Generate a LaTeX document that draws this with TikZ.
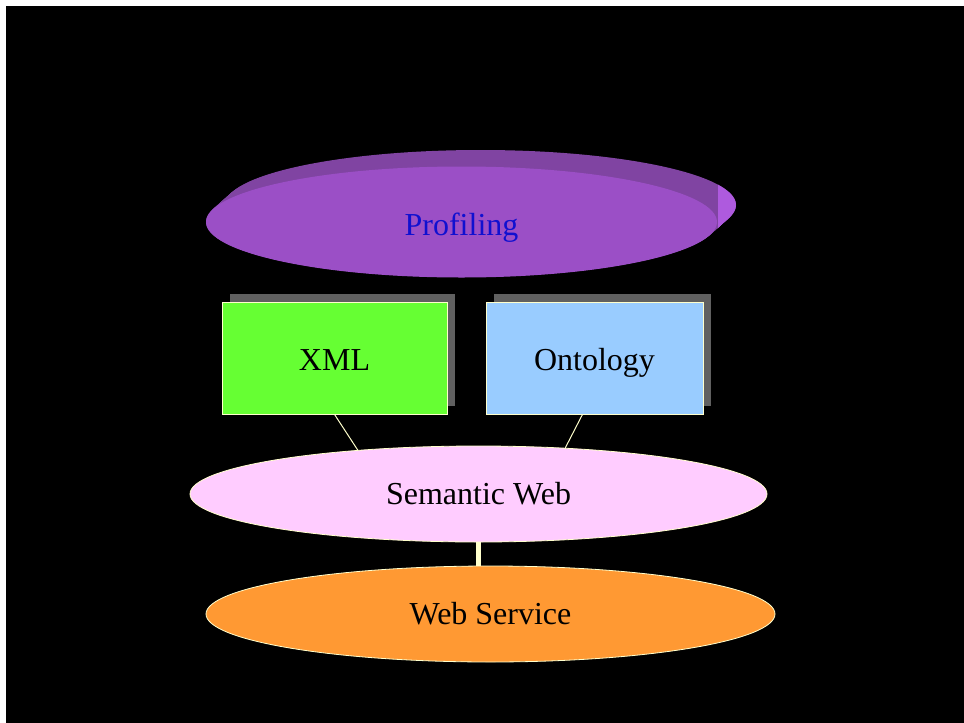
\documentclass[tikz,border=0pt]{standalone}
\usepackage{fontspec}
\setmainfont{Liberation Serif}
\usepackage{tikz}
\usetikzlibrary{calc,shapes.geometric,shadows}

\definecolor{cream}{HTML}{FFFFCC}
\definecolor{discfront}{HTML}{9B4FC6}
\definecolor{discside}{HTML}{8044A2}
\definecolor{discedge}{HTML}{AE5ADE}
\definecolor{profblue}{HTML}{1010D0}
\definecolor{xmlgreen}{HTML}{66FF33}
\definecolor{ontblue}{HTML}{99CCFF}
\definecolor{swpink}{HTML}{FFCCFF}
\definecolor{wsorange}{HTML}{FF9933}
\definecolor{shadowgray}{HTML}{606060}

\tikzset{
	label text/.style={font=\fontsize{32}{38}\selectfont, text=black, inner sep=0pt},
	layer/.style={ellipse, draw=cream, line width=0.8pt, label text},
	boxnode/.style={rectangle, draw=cream, line width=0.8pt, label text, text height=32pt, text depth=7pt,
		drop shadow={shadow xshift=8pt, shadow yshift=8pt, fill=shadowgray, opacity=1}},
	thinlink/.style={draw=cream, line width=1pt},
	thicklink/.style={draw=cream, line width=5pt}
}

\begin{document}
\begin{tikzpicture}[x=1pt, y=-1pt]
		%%%%% START %%%%%
		
		\useasboundingbox (0, 0) rectangle (964, 723);
		\fill[white] (0, 0) rectangle (964, 723);
		\fill[black] (6, 6) rectangle (964, 723);
		
		% profiling disc
		\foreach \k in {0,...,20}
			\fill[discside] ($(461.5, 222)+\k*(0.95, -0.85)$) ellipse [x radius=255.5, y radius=55];
		\begin{scope}
			\clip (718, 140) rectangle (760, 240);
			\foreach \k in {0,...,20}
				\fill[discedge] ($(461.5, 222)+\k*(0.95, -0.85)$) ellipse [x radius=255.5, y radius=55];
		\end{scope}
		\node[ellipse, fill=discfront, minimum width=511pt, minimum height=111pt, label text, text=profblue, text height=33pt, text depth=7pt] (prof) at (461.5, 222) {Profiling};
		
		\node[boxnode, fill=xmlgreen, minimum width=225pt, minimum height=112pt] (xml) at (334.5, 358) {XML};
		\node[boxnode, fill=ontblue, minimum width=217pt, minimum height=112pt] (ont) at (594.5, 358) {Ontology};
		
		\node[layer, fill=swpink, minimum width=577pt, minimum height=96pt] (sw) at (478.5, 494) {Semantic Web};
		\node[layer, fill=wsorange, minimum width=569pt, minimum height=96pt] (ws) at (490.5, 614) {Web Service};
		
		\draw[thinlink] (xml.south) -- (sw.160);
		\draw[thinlink] ($(ont.south)+(-12, 0)$) -- (sw.28);
		\draw[thicklink] (sw.south) -- (sw.south |- ws.north);
		
		%%%%% END %%%%%
\end{tikzpicture}
\end{document}
